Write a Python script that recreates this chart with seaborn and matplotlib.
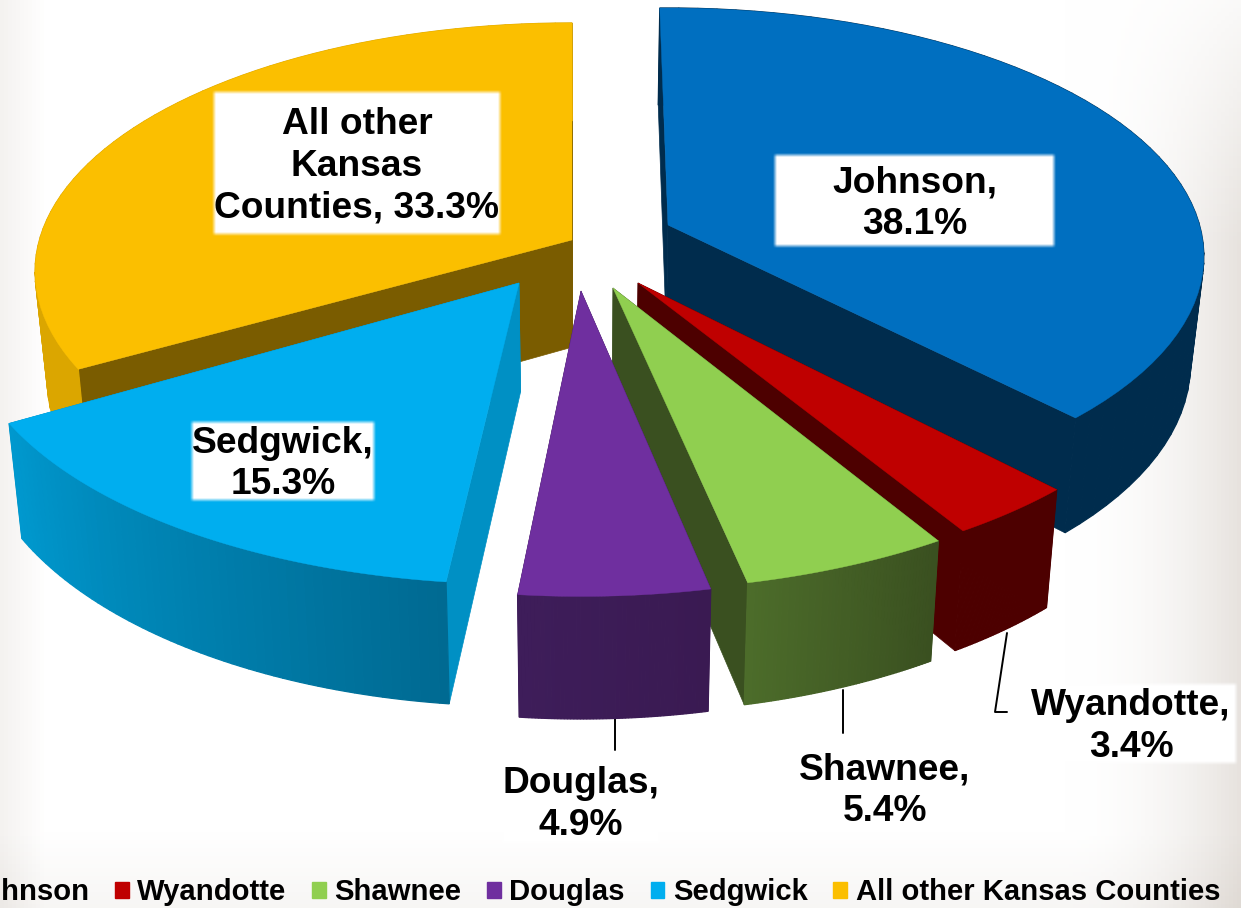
import numpy as np
import seaborn as sns
import matplotlib.pyplot as plt
from matplotlib.patches import Patch

# Share of the total by county, clockwise from the top
counties = ['Johnson', 'Wyandotte', 'Shawnee', 'Douglas', 'Sedgwick', 'All other Kansas Counties']
shares = [38.1, 3.4, 5.4, 4.9, 15.3, 33.3]
slice_labels = ['Johnson,\n38.1%', 'Wyandotte,\n3.4%', 'Shawnee,\n5.4%', 'Douglas,\n4.9%',
                'Sedgwick,\n15.3%', 'All other\nKansas\nCounties, 33.3%']

# Colours: top, cut face, outer wall gradient ends
top_colors = ['#006fc0', '#bf0000', '#90cf50', '#6f2f9f', '#00aeef', '#fbbf00']
face_colors = ['#002c4d', '#4d0000', '#3a5020', '#3c1c58', '#0090c4', '#7a5c00']
wall_colors = [('#002c4d', '#002c4d'), ('#4d0000', '#4d0000'), ('#4c6c2a', '#3a5020'),
               ('#3e1d5a', '#3a1a52'), ('#0098ce', '#006a92'), ('#dba600', '#dba600')]

# Exploded layout: where each slice's tip sits, how it is stretched in x and y,
# and small turns in degrees of its two straight edges
tips = [(668, 225), (638, 283), (613, 288), (581, 291), (519, 283), (572, 240)]
stretch = [(0.988, 1.0), (1.02, 1.065), (1.035, 1.08), (1.03, 1.09), (1.025, 1.075), (0.99, 1.0)]
turns = [(-1, -0.8), (-0.5, -0.7), (-0.2, -0.4), (0, 0), (0.9, -0.6), (-0.3, 0)]
draw_order = [0, 5, 1, 2, 3, 4]

RX, RY, PERSP = 538, 244.6, 0.127


def project(theta, tip, scale):
    x_u, y_u = np.sin(np.radians(theta)), np.cos(np.radians(theta))
    w = 1 + PERSP * y_u
    return tip[0] + scale[0] * RX * x_u / w, tip[1] - scale[1] * RY * y_u / w


def drop(x, y):
    # bottom edge of the slice: verticals lean in, depth grows towards the viewer
    return x + (590 - x) * 0.022, y + 97 + (y - 8) * 0.0435


def soft_box(ax, x0, y0, x1, y1, edge=4):
    h, w = int(y1 - y0), int(x1 - x0)
    ramp_x = np.clip(np.minimum(np.arange(w) + 0.5, w - np.arange(w) - 0.5) / edge, 0, 1)
    ramp_y = np.clip(np.minimum(np.arange(h) + 0.5, h - np.arange(h) - 0.5) / edge, 0, 1)
    rgba = np.ones((h, w, 4))
    rgba[..., 3] = np.outer(ramp_y, ramp_x)
    ax.imshow(rgba, extent=(x0, x1, y1, y0), aspect='auto', zorder=20, interpolation='bilinear')


sns.set_theme(style='white')
plt.rcParams['font.family'] = ['Liberation Sans', 'DejaVu Sans']
fig = plt.figure(figsize=(12.41, 9.08), dpi=100)
ax = fig.add_axes([0, 0, 1, 1])

# Pale slide background, darker towards the edges
xx, yy = np.meshgrid(np.linspace(0, 1, 310), np.linspace(0, 1, 227))
shade = np.clip((xx - 0.86) / 0.14, 0, 1) ** 2 * 0.11 * np.clip(yy * 3 + 0.2, 0, 1)
shade = shade + np.clip((0.035 - xx) / 0.035, 0, 1) * 0.05 + np.clip((yy - 0.92) / 0.08, 0, 1) * 0.035
bg = np.ones((227, 310, 3)) - shade[..., None] * np.array([0.85, 1.0, 1.15])
ax.imshow(bg, extent=(0, 1241, 908, 0), aspect='auto', zorder=0)

# Leader lines of the outside labels
ax.plot([615, 615], [715, 750], color='black', lw=1.4, zorder=1)
ax.plot([843, 843], [690, 733], color='black', lw=1.4, zorder=1)
ax.plot([1007, 995, 1007], [633, 712, 712], color='black', lw=1.4, zorder=1)

edges = np.concatenate([[0], np.cumsum(shares)]) * 360 / np.sum(shares)
for z, i in enumerate(draw_order):
    tip, scale = tips[i], stretch[i]
    th = np.linspace(edges[i] + turns[i][0], edges[i + 1] + turns[i][1], 60)
    tx, ty = project(th, tip, scale)
    bx, by = drop(tx, ty)
    tip_bx, tip_by = drop(*tip)
    base = 2 + z * 3

    # two cut faces
    ax.fill([tip[0], tx[0], bx[0], tip_bx], [tip[1], ty[0], by[0], tip_by],
            color=face_colors[i], lw=0.5, zorder=base)
    ax.fill([tip[0], tx[-1], bx[-1], tip_bx], [tip[1], ty[-1], by[-1], tip_by],
            color=face_colors[i], lw=0.5, zorder=base)

    # outer wall in narrow strips, so the shading can change along the arc
    left, right = wall_colors[i]
    shades = sns.blend_palette([right, left], len(th) - 1) if tx[0] > tx[-1] else sns.blend_palette([left, right], len(th) - 1)
    for j in range(len(th) - 1):
        ax.fill([tx[j], tx[j + 1], bx[j + 1], bx[j]], [ty[j], ty[j + 1], by[j + 1], by[j]],
                color=shades[j], lw=0.9, zorder=base + 1)

    ax.fill(np.r_[tip[0], tx], np.r_[tip[1], ty], color=top_colors[i], lw=0.3, zorder=base + 2)

# Data labels
label_boxes = [(773, 153, 1056, 248), (1024, 682, 1238, 765), (796, 745, 974, 830),
               (500, 758, 662, 845), (190, 420, 376, 502), (212, 90, 502, 236)]
for label, box in zip(slice_labels, label_boxes):
    soft_box(ax, *box)
    ax.text((box[0] + box[2]) / 2, (box[1] + box[3]) / 2 + 3, label, ha='center', va='center',
            fontsize=26.7, fontweight='bold', color='black', linespacing=1.25, zorder=21)

ax.set_xlim(0, 1241)
ax.set_ylim(908, 0)
ax.axis('off')

# Legend runs off the left edge, as in the source slide
handles = [Patch(color=c, label=n) for c, n in zip(top_colors, counties)]
ax.legend(handles=handles, ncol=6, loc='center left', bbox_to_anchor=(-55 / 1241, 1 - 892 / 908),
          bbox_transform=ax.transAxes, frameon=False, borderpad=0, borderaxespad=0,
          handlelength=0.46, handleheight=0.46, handletextpad=0.3, columnspacing=0.88,
          labelcolor='black', prop={'family': 'Liberation Sans', 'weight': 'bold', 'size': 21.05})

fig.savefig('out.png', dpi=100)
